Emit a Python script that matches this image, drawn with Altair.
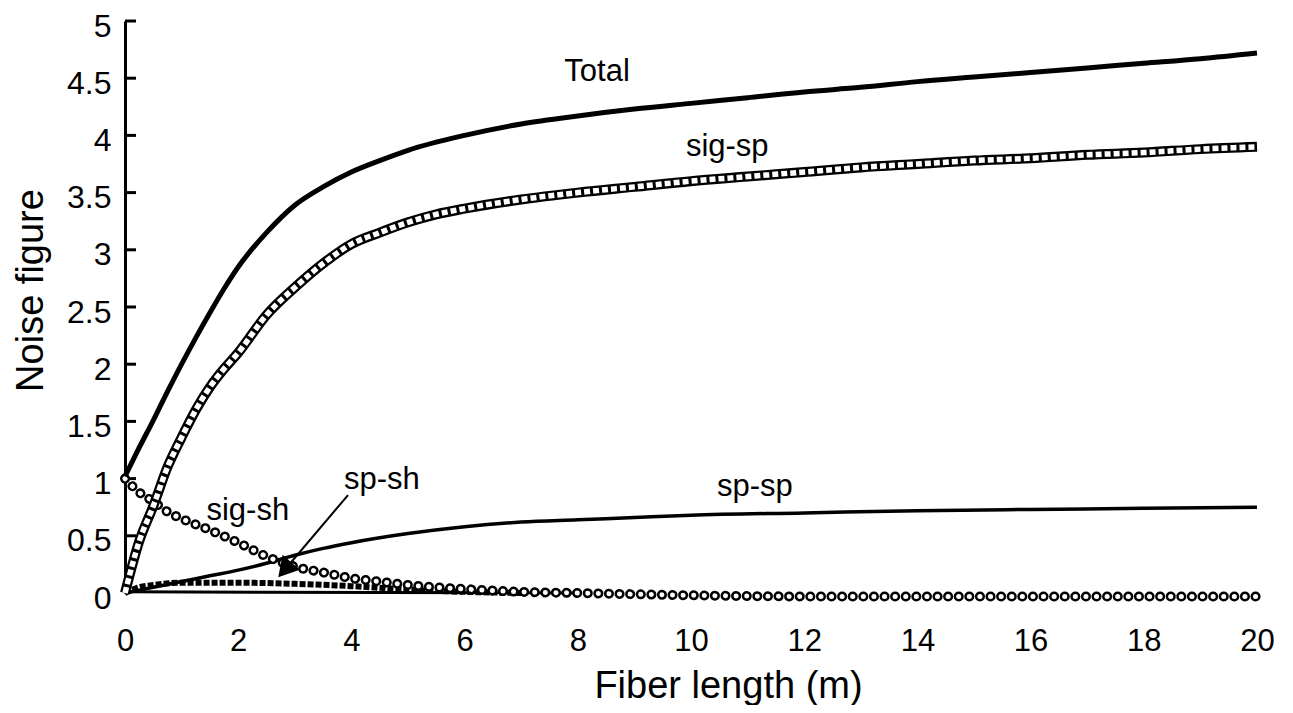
import altair as alt
import pandas as pd

FONT = "Liberation Sans"

# ---- data ----
x_ticks = [0, 2, 4, 6, 8, 10, 12, 14, 16, 18, 20]
y_ticks = [0, 0.5, 1, 1.5, 2, 2.5, 3, 3.5, 4, 4.5, 5]
y_tick_marks = [0.5, 1, 1.5, 2, 2.5, 3, 3.5, 4, 4.5, 5]

total_x = [0, 0.25, 0.5, 0.75, 1, 1.25, 1.5, 1.75, 2, 2.5, 3, 3.5, 4, 4.5, 5, 6, 7, 8, 9, 10,
           11, 12, 13, 14, 15, 16, 17, 18, 19, 20]
total_y = [1.02, 1.27, 1.51, 1.76, 2.0, 2.23, 2.45, 2.66, 2.85, 3.15, 3.39, 3.55, 3.68, 3.78, 3.87,
           4.0, 4.1, 4.17, 4.23, 4.28, 4.33, 4.38, 4.42, 4.47, 4.51, 4.55, 4.59, 4.63, 4.67, 4.72]

sigsp_x = [0, 0.25, 0.5, 0.75, 1, 1.25, 1.5, 1.75, 2, 2.5, 3, 3.5, 4, 4.5, 5, 5.5, 6, 7, 8, 9, 10,
           11, 12, 13, 14, 15, 16, 17, 18, 19, 20]
sigsp_y = [0.0, 0.45, 0.76, 1.1, 1.36, 1.6, 1.8, 1.96, 2.1, 2.43, 2.67, 2.88, 3.05, 3.15, 3.24,
           3.31, 3.36, 3.44, 3.5, 3.55, 3.6, 3.64, 3.68, 3.72, 3.75, 3.78, 3.8, 3.83, 3.85, 3.88, 3.9]

sigsh_x = [0, 0.25, 0.5, 0.75, 1, 1.5, 2, 2.5, 3, 3.5, 4, 4.5, 5, 5.5, 6, 7, 8, 10, 12, 14, 16, 18, 20]
sigsh_y = [1.0, 0.88, 0.8, 0.71, 0.65, 0.55, 0.44, 0.32, 0.23, 0.18, 0.13, 0.1, 0.07, 0.05, 0.035,
           0.01, 0.0, -0.02, -0.03, -0.03, -0.03, -0.03, -0.03]

spsp_x = [0, 0.5, 1, 1.5, 2, 2.5, 3, 3.5, 4, 5, 6, 7, 8, 9, 10, 12, 14, 16, 18, 20]
spsp_y = [0.0, 0.05, 0.1, 0.15, 0.2, 0.26, 0.33, 0.39, 0.44, 0.52, 0.58, 0.62, 0.64, 0.66, 0.68,
          0.7, 0.72, 0.73, 0.74, 0.75]

spsh_x = [0, 0.25, 0.5, 1, 2, 3, 4, 5, 6, 7]
spsh_y = [0.0, 0.05, 0.07, 0.09, 0.09, 0.08, 0.06, 0.03, 0.01, 0.0]

base_x = [0, 8]
base_y = [0.01, 0.0]

labels = ["Total", "sig-sp", "sp-sp", "sig-sh", "sp-sh"]
label_x = [8.34, 10.64, 11.13, 2.17, 4.54]
label_y = [4.55, 3.9, 0.93, 0.72, 0.99]

arrow_x = [3.94]
arrow_y = [0.856]
arrow_x2 = [2.86]
arrow_y2 = [0.225]


def frame(xs, ys):
    return pd.DataFrame({"x": xs, "y": ys})


xscale = alt.Scale(domain=[0, 20], nice=False, zero=False)
yscale = alt.Scale(domain=[0, 5], nice=False, zero=False)

X = alt.X("x:Q", scale=xscale,
          axis=alt.Axis(title="Fiber length (m)", values=x_ticks, format="~g", domain=False,
                        ticks=False, grid=False, labelFlush=False, labelFontSize=31,
                        labelFont=FONT, labelColor="black", labelPadding=33,
                        titleFontSize=38, titleFont=FONT, titleFontWeight="normal",
                        titleColor="black", titleX=603, titleY=104,
                        titleBaseline="alphabetic", titleAlign="center"))
Y = alt.Y("y:Q", scale=yscale,
          axis=alt.Axis(title="Noise figure", values=y_ticks, format="~g", domain=True,
                        domainColor="black", domainWidth=3, ticks=False, grid=False,
                        labelFlush=False, labelOffset=5,
                        labelFontSize=32, labelFont=FONT, labelColor="black", labelPadding=14,
                        titleFontSize=38, titleFont=FONT, titleFontWeight="normal",
                        titleColor="black", titleX=-94, titleY=269, titleAngle=270,
                        titleAlign="center", titleBaseline="middle"))

SMOOTH = "monotone"
layers = []

# y ticks pointing inward
layers.append(alt.Chart(pd.DataFrame({"y": y_tick_marks})).mark_rule(
    color="black", strokeWidth=3).encode(y=Y, x=alt.value(0), x2=alt.value(11)))

# baseline solid component
layers.append(alt.Chart(frame(base_x, base_y)).mark_line(color="black", strokeWidth=3).encode(x=X, y=Y))

# sp-sh : dashed filled squares
layers.append(alt.Chart(frame(spsh_x, spsh_y)).mark_line(
    color="black", strokeWidth=6, strokeDash=[6, 2], interpolate=SMOOTH).encode(x=X, y=Y))

# sp-sp
layers.append(alt.Chart(frame(spsp_x, spsp_y)).mark_line(
    color="black", strokeWidth=3.5, interpolate=SMOOTH).encode(x=X, y=Y))

# sig-sh : chain of open circles
sigsh = frame(sigsh_x, sigsh_y)
layers.append(alt.Chart(sigsh).mark_line(
    color="black", strokeWidth=10, strokeDash=[0.1, 10.5], strokeCap="round",
    interpolate=SMOOTH).encode(x=X, y=Y))
layers.append(alt.Chart(sigsh).mark_line(
    color="white", strokeWidth=5, strokeDash=[0.1, 10.5], strokeCap="round",
    interpolate=SMOOTH).encode(x=X, y=Y))

# sig-sp : chain of open squares
sigsp = frame(sigsp_x, sigsp_y)
layers.append(alt.Chart(sigsp).mark_line(color="black", strokeWidth=10,
                                         interpolate=SMOOTH).encode(x=X, y=Y))
layers.append(alt.Chart(sigsp).mark_line(
    color="white", strokeWidth=5.5, strokeDash=[6, 3], interpolate=SMOOTH).encode(x=X, y=Y))

# Total
layers.append(alt.Chart(frame(total_x, total_y)).mark_line(
    color="black", strokeWidth=5, interpolate=SMOOTH).encode(x=X, y=Y))

# arrow for sp-sh
arrow = pd.DataFrame({"x": arrow_x, "y": arrow_y, "x2": arrow_x2, "y2": arrow_y2})
layers.append(alt.Chart(arrow).mark_rule(color="black", strokeWidth=2).encode(
    x=X, y=Y, x2="x2:Q", y2="y2:Q"))
layers.append(alt.Chart(arrow).mark_point(
    shape="triangle", filled=True, color="black", size=520, angle=221, opacity=1).encode(
    x=alt.X("x2:Q", scale=xscale), y=alt.Y("y2:Q", scale=yscale)))

# labels
layers.append(alt.Chart(pd.DataFrame({"x": label_x, "y": label_y, "t": labels})).mark_text(
    font=FONT, fontSize=31, color="black", align="center", baseline="middle").encode(
    x=X, y=Y, text="t:N"))

chart = alt.layer(*layers).properties(
    width=1132, height=572,
    autosize=alt.AutoSizeParams(type="none"),
    padding={"left": 117, "top": 13, "right": 28, "bottom": 112},
    background="white",
).configure_view(stroke=None)

chart.save("out.html", embed_options={"renderer": "svg", "actions": False})
